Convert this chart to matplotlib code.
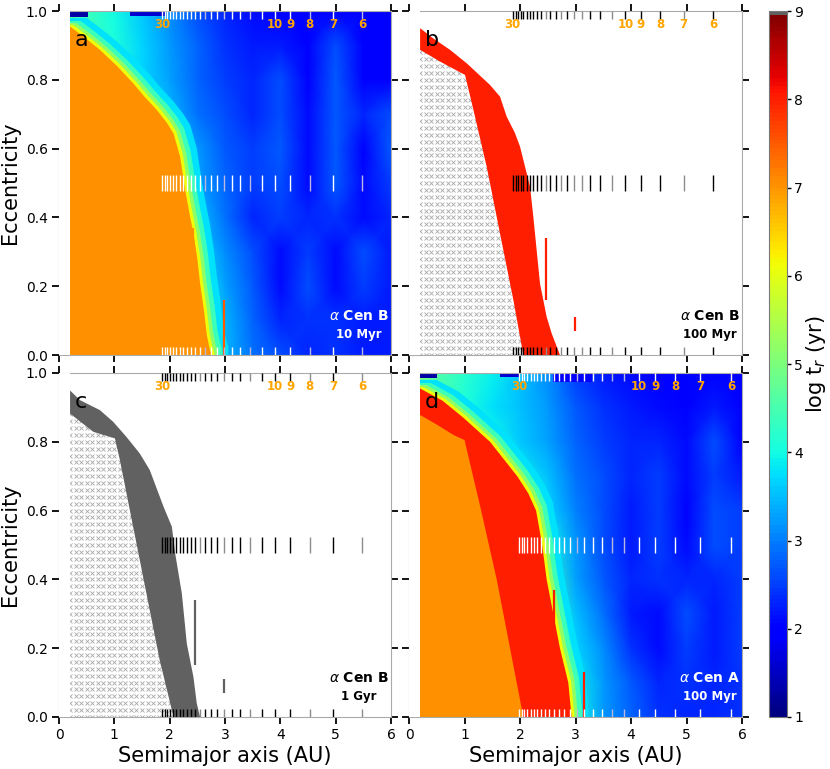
import numpy as np
import matplotlib
matplotlib.use("Agg")
import matplotlib.pyplot as plt
from matplotlib.colors import ListedColormap, Normalize
from matplotlib.cm import ScalarMappable
from matplotlib.path import Path

# ---- data ----
# n:1 mean motion resonances with the companion (AU)
res_orders = list(range(6, 31))
res_B = [5.48, 4.95, 4.53, 4.18, 3.90, 3.66, 3.45, 3.27, 3.12, 2.98, 2.85, 2.74, 2.64,
         2.54, 2.46, 2.38, 2.31, 2.24, 2.18, 2.12, 2.06, 2.01, 1.96, 1.92, 1.87]
res_A = [5.81, 5.25, 4.80, 4.44, 4.14, 3.88, 3.66, 3.47, 3.31, 3.16, 3.02, 2.90, 2.80,
         2.70, 2.61, 2.52, 2.45, 2.37, 2.31, 2.25, 2.19, 2.13, 2.08, 2.03, 1.99]
res_labeled = [30, 10, 9, 8, 7, 6]
# 1 = drawn faded
res_fade_a = [1, 0, 1, 0, 0, 0, 1, 0, 0, 1, 0, 0, 1, 0, 0, 0, 0, 0, 0, 0, 0, 0, 0, 0, 0]
res_fade_b = [0, 1, 0, 0, 0, 1, 0, 0, 1, 1, 0, 1, 0, 0, 1, 0, 0, 0, 0, 0, 0, 0, 0, 0, 0]
res_fade_c = [1, 0, 1, 0, 0, 0, 1, 0, 0, 1, 0, 0, 0, 1, 0, 0, 0, 0, 0, 0, 0, 0, 0, 0, 0]
res_fade_d = [0, 0, 0, 0, 0, 1, 1, 0, 0, 0, 1, 0, 0, 0, 0, 0, 0, 0, 0, 0, 0, 0, 0, 0, 0]

# coarse map of log t_r for the unstable region (panels a and d)
bg_x = [0.2, 0.5, 1.0, 1.5, 2.0, 2.5, 3.0, 3.5, 4.0, 4.5, 5.0, 5.5, 6.0]
bg_e = [0.0, 0.1, 0.2, 0.3, 0.4, 0.5, 0.6, 0.7, 0.8, 0.9, 1.0]
a_bg = [
    [4.0, 4.0, 4.0, 4.0, 4.0, 4.0, 3.4, 2.9, 2.6, 2.3, 2.4, 2.2, 2.2],
    [4.0, 4.0, 4.0, 4.0, 4.0, 4.0, 3.4, 2.8, 2.3, 2.4, 2.4, 2.2, 2.2],
    [4.0, 4.0, 4.0, 4.0, 4.0, 4.0, 3.3, 2.7, 2.1, 2.6, 2.1, 2.5, 2.2],
    [4.0, 4.0, 4.0, 4.0, 4.0, 3.7, 3.1, 2.6, 2.1, 2.5, 2.1, 2.6, 2.2],
    [4.0, 4.0, 4.0, 4.0, 4.0, 3.5, 2.9, 2.3, 2.5, 2.3, 2.4, 2.1, 2.3],
    [4.0, 4.0, 4.0, 4.0, 3.9, 3.3, 2.8, 2.5, 2.6, 2.1, 2.7, 2.1, 2.5],
    [4.2, 4.2, 4.2, 4.2, 3.7, 3.2, 2.7, 2.5, 2.7, 2.1, 2.7, 2.0, 2.7],
    [4.4, 4.4, 4.3, 3.9, 3.4, 2.9, 2.6, 2.3, 2.6, 2.1, 2.7, 2.3, 2.6],
    [4.5, 4.5, 4.1, 3.7, 3.3, 2.8, 2.5, 2.3, 2.6, 2.0, 2.7, 2.0, 2.0],
    [4.6, 4.4, 4.1, 3.7, 3.2, 2.8, 2.4, 2.2, 2.2, 2.0, 2.6, 2.0, 2.0],
    [4.7, 4.4, 4.0, 3.6, 3.1, 2.6, 2.3, 2.1, 2.0, 2.0, 2.0, 2.0, 1.9],
]
d_bg = [
    [4.5, 4.5, 4.5, 4.5, 4.5, 4.5, 4.0, 3.2, 2.8, 2.4, 2.3, 2.3, 2.4],
    [4.5, 4.5, 4.5, 4.5, 4.5, 4.5, 3.9, 3.2, 2.7, 2.3, 2.4, 2.3, 2.4],
    [4.5, 4.5, 4.5, 4.5, 4.5, 4.5, 3.7, 3.1, 2.4, 2.1, 2.5, 2.2, 2.5],
    [4.5, 4.5, 4.5, 4.5, 4.5, 4.5, 3.5, 2.9, 2.2, 2.1, 2.6, 2.2, 2.5],
    [4.5, 4.5, 4.5, 4.5, 4.5, 4.3, 3.3, 2.7, 2.3, 2.4, 2.3, 2.3, 2.5],
    [4.5, 4.5, 4.5, 4.5, 4.5, 4.0, 3.2, 2.6, 2.2, 2.5, 2.1, 2.6, 2.5],
    [4.5, 4.5, 4.5, 4.5, 4.3, 3.7, 3.0, 2.6, 2.2, 2.5, 2.0, 2.6, 2.5],
    [4.5, 4.5, 4.5, 4.3, 3.9, 3.5, 2.9, 2.6, 2.3, 2.5, 2.1, 2.5, 2.2],
    [4.6, 4.5, 4.3, 4.0, 3.6, 3.3, 2.8, 2.5, 2.3, 2.3, 2.1, 2.6, 2.0],
    [4.9, 4.6, 4.1, 3.8, 3.5, 3.2, 2.7, 2.4, 2.2, 2.1, 2.0, 2.2, 2.0],
    [5.0, 4.6, 4.2, 3.9, 3.5, 3.1, 2.5, 2.2, 2.1, 2.0, 2.0, 2.0, 2.0],
]

# edge of the region stable over the whole run
a_edge_x = [0.20, 0.45, 0.74, 1.05, 1.34, 1.55, 1.77, 1.95, 2.07, 2.19, 2.28, 2.36,
            2.43, 2.50, 2.55, 2.62, 2.67, 2.72, 2.76]
a_edge_e = [0.955, 0.925, 0.887, 0.84, 0.79, 0.75, 0.712, 0.675, 0.644, 0.576, 0.48,
            0.41, 0.354, 0.28, 0.208, 0.13, 0.06, 0.02, 0.0]
d_red_x = [0.20, 0.60, 0.98, 1.46, 1.95, 2.15, 2.29, 2.40, 2.48, 2.60, 2.72, 2.87, 2.93]
d_red_e = [0.955, 0.92, 0.87, 0.80, 0.70, 0.65, 0.60, 0.50, 0.40, 0.30, 0.20, 0.10, 0.0]
d_or_x = [0.20, 0.50, 0.80, 1.00, 1.30, 1.58, 1.82, 2.06]
d_or_e = [0.878, 0.85, 0.82, 0.805, 0.60, 0.40, 0.20, 0.0]

# bands of planets lost between successive snapshots (panels b, c)
b_up_x = [0.20, 0.44, 0.74, 1.04, 1.46, 1.64, 1.76, 1.91, 2.00, 2.09, 2.18, 2.24, 2.30,
          2.36, 2.48, 2.57, 2.72]
b_up_e = [0.95, 0.92, 0.887, 0.848, 0.785, 0.751, 0.693, 0.645, 0.606, 0.548, 0.49,
          0.402, 0.305, 0.208, 0.111, 0.063, 0.0]
b_lo_x = [0.20, 0.56, 1.01, 1.16, 1.40, 1.64, 1.88, 2.06]
b_lo_e = [0.887, 0.853, 0.814, 0.713, 0.547, 0.353, 0.16, 0.0]
c_up_x = [0.20, 0.38, 0.74, 0.98, 1.22, 1.46, 1.64, 1.89, 2.04, 2.10, 2.22, 2.31, 2.43,
          2.49, 2.55]
c_up_e = [0.949, 0.921, 0.892, 0.858, 0.814, 0.766, 0.718, 0.611, 0.553, 0.475, 0.359,
          0.213, 0.116, 0.039, 0.0]
c_lo_x = [0.20, 0.62, 1.01, 1.10, 1.34, 1.58, 1.82, 2.07]
c_lo_e = [0.882, 0.829, 0.81, 0.747, 0.553, 0.359, 0.165, 0.0]

# isolated long-lived columns: (a, e_min, e_max, log t)
a_spikes = [(2.99, 0.0, 0.16, 7.5), (2.43, 0.2, 0.37, 7.0)]
b_spikes = [(2.46, 0.16, 0.34, 8.0), (2.99, 0.07, 0.11, 8.0)]
c_spikes = [(2.46, 0.15, 0.34, 9.0), (2.99, 0.07, 0.11, 9.0)]
d_spikes = [(3.15, 0.0, 0.13, 8.0), (2.61, 0.1, 0.37, 8.0)]

# short-lived strips along e = 1: (a_min, a_max, e_min, log t)
a_strips = [(0.2, 0.53, 0.983, 1.3), (1.28, 1.92, 0.985, 1.6)]
d_strips = [(0.2, 0.50, 0.985, 1.3), (1.64, 2.00, 0.987, 1.6), (2.6, 3.3, 0.975, 1.9)]

# ---- colours ----
jet_cols = plt.get_cmap("jet")(np.linspace(0, 1, 180))
jet_cols[-1] = [0.38, 0.38, 0.38, 1.0]
cmap = ListedColormap(jet_cols)
norm = Normalize(1, 9)


def col(v):
    return cmap(norm(v))


W, H = 830, 769
fig = plt.figure(figsize=(W / 100, H / 100), dpi=100)


def box(l, t, r, b):
    return [l / W, 1 - b / H, (r - l) / W, (b - t) / H]


ax_a = fig.add_axes(box(59, 11, 391, 355))
ax_b = fig.add_axes(box(409, 11, 742, 355))
ax_c = fig.add_axes(box(59, 373, 391, 717))
ax_d = fig.add_axes(box(409, 373, 742, 717))
cax = fig.add_axes(box(769, 11, 787, 717))


def stable_poly(xs, es):
    pts = [(-1, -1), (-1, es[0])] + list(zip(xs, es)) + [(xs[-1], -1)]
    return np.array(pts)


def draw_map(ax, bg, edge_x, edge_e, value):
    ax.pcolormesh(bg_x, bg_e, np.array(bg), cmap=cmap, norm=norm,
                  shading="gouraud", zorder=0)
    poly = stable_poly(edge_x, edge_e)
    for dx, de, v in [(0.30, 0.025, 3.8), (0.19, 0.016, 4.4), (0.11, 0.010, 5.2),
                      (0.05, 0.005, 6.1)]:
        ax.fill(poly[:, 0] + dx, poly[:, 1] + de, color=col(v), lw=0, zorder=1)
    ax.fill(poly[:, 0], poly[:, 1], color=col(value), lw=0, zorder=2)


def draw_band(ax, ux, ue, lx, le, value):
    xs = list(ux) + list(lx)[::-1]
    es = list(ue) + list(le)[::-1]
    ax.fill(xs, es, color=col(value), lw=0, zorder=2)
    # grid points already removed earlier
    gx, ge = np.meshgrid(np.arange(0.2, 2.2, 0.1), np.arange(0.0, 0.9, 0.02))
    region = Path([(0.2, 0.0), (0.2, le[0])] + list(zip(lx, le)) + [(lx[-1], 0.0)])
    inside = region.contains_points(np.c_[gx.ravel(), ge.ravel()], radius=-0.01)
    ax.plot(gx.ravel()[inside], ge.ravel()[inside], "x", color="#a8a8a8",
            ms=2.3, mew=0.6, zorder=1)


def draw_extras(ax, spikes, strips):
    for x, e0, e1, v in spikes:
        ax.vlines(x, e0, e1, color=col(v), lw=1.6, zorder=2.5)
    for x0, x1, e0, v in strips:
        ax.fill_between([x0, x1], e0, 1.0, color=col(v), lw=0, zorder=2.5)


def draw_res(ax, pos, fade, dark):
    base, faded = ("black", "#8c8c8c") if dark else ("white", "#b8b8e0")
    cols = [faded if f else base for f in fade]
    for lo, hi in [(0.978, 1.0), (0.478, 0.522), (0.0, 0.022)]:
        ax.vlines(pos, lo, hi, colors=cols, lw=1.0, zorder=4)
    for n in res_labeled:
        ax.text(pos[res_orders.index(n)], 0.962, str(n), ha="center", va="center",
                color="orange", fontsize=8.5, fontweight="bold", zorder=5)


def style(ax, letter, star, age, txt_col, show_x, show_y):
    ax.axvspan(0, 0.2, color="white", lw=0, zorder=3)
    ax.set_xlim(0, 6)
    ax.set_ylim(0, 1)
    ax.set_xticks(range(7))
    ax.set_yticks([0.0, 0.2, 0.4, 0.6, 0.8, 1.0])
    ax.tick_params(direction="out", length=5, width=1.3, top=True, right=True,
                   labelsize=10, pad=3, labelbottom=show_x, labelleft=show_y)
    for s in ax.spines.values():
        s.set_color("#aaaaaa")
    ax.text(0.28, 0.915, letter, fontsize=16, ha="left", va="center", zorder=5)
    ax.text(5.42, 0.113, r"$\alpha$ Cen " + star, ha="center", va="center",
            fontsize=10, fontweight="bold", color=txt_col, zorder=5)
    ax.text(5.42, 0.061, age, ha="center", va="center", fontsize=8.5,
            fontweight="bold", color=txt_col, zorder=5)
    if show_x:
        ax.set_xlabel("Semimajor axis (AU)", fontsize=15, labelpad=3)
    if show_y:
        ax.set_ylabel("Eccentricity", fontsize=15, labelpad=4)


# a: alpha Cen B, 10 Myr
draw_map(ax_a, a_bg, a_edge_x, a_edge_e, 7.0)
draw_extras(ax_a, a_spikes, a_strips)
draw_res(ax_a, res_B, res_fade_a, dark=False)
style(ax_a, "a", "B", "10 Myr", "white", False, True)

# b: alpha Cen B, 100 Myr
draw_band(ax_b, b_up_x, b_up_e, b_lo_x, b_lo_e, 8.0)
draw_extras(ax_b, b_spikes, [])
draw_res(ax_b, res_B, res_fade_b, dark=True)
style(ax_b, "b", "B", "100 Myr", "black", False, False)

# c: alpha Cen B, 1 Gyr
draw_band(ax_c, c_up_x, c_up_e, c_lo_x, c_lo_e, 9.0)
draw_extras(ax_c, c_spikes, [])
draw_res(ax_c, res_B, res_fade_c, dark=True)
style(ax_c, "c", "B", "1 Gyr", "black", True, True)

# d: alpha Cen A, 100 Myr
draw_map(ax_d, d_bg, d_red_x, d_red_e, 8.0)
d_or = stable_poly(d_or_x, d_or_e)
ax_d.fill(d_or[:, 0], d_or[:, 1], color=col(7.0), lw=0, zorder=2)
draw_extras(ax_d, d_spikes, d_strips)
draw_res(ax_d, res_A, res_fade_d, dark=False)
style(ax_d, "d", "A", "100 Myr", "white", True, False)

cb = fig.colorbar(ScalarMappable(norm=norm, cmap=cmap), cax=cax, ticks=range(1, 10))
cb.outline.set_edgecolor("#777777")
cb.ax.tick_params(length=3, width=1, labelsize=10, pad=2)
cb.set_label(r"log t$_r$ (yr)", fontsize=15, labelpad=1)

fig.savefig("out.png", dpi=100)
